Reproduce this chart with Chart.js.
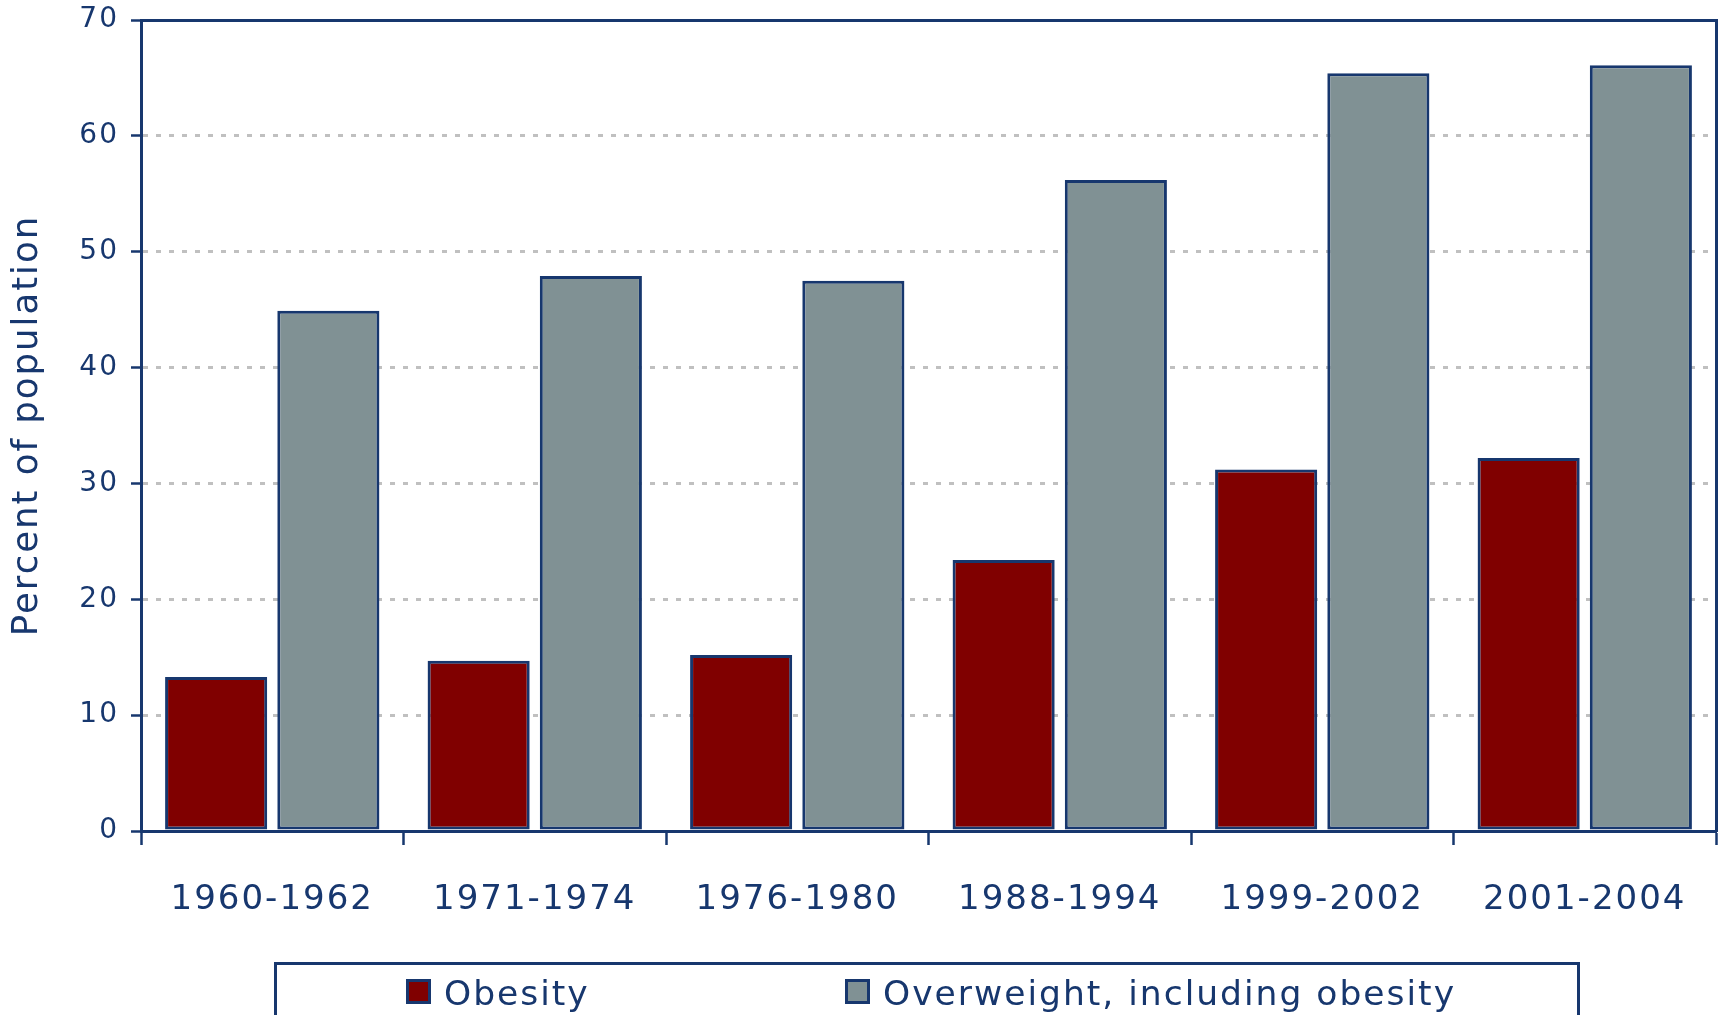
<!DOCTYPE html>
<html>
<head>
<meta charset="utf-8">
<title>Obesity and overweight</title>
<script src="https://cdn.jsdelivr.net/npm/chart.js@4"></script>
<style>
    html, body { margin: 0; padding: 0; background: #fff; overflow: hidden; }
    #wrap { position: relative; width: 1719px; height: 1015px; }
    #legend {
        position: absolute; left: 274px; top: 962px; width: 1306px; height: 80px;
        border: 3px solid #17376e; box-sizing: border-box;
        font-family: "DejaVu Sans", sans-serif; font-size: 34.5px; letter-spacing: 2px; color: #17376e;
    }
    #legend .box { position: absolute; top: 14px; width: 25px; height: 25px; box-sizing: border-box; border: 3px solid #17376e; }
    #legend .txt { position: absolute; top: 11px; line-height: 35px; white-space: nowrap; }
</style>
</head>
<body>
<div id="wrap">
    <canvas id="chart" width="1719" height="1015"></canvas>
    <div id="legend"></div>
</div>
<script>
(function() {
    'use strict';

    var periods = ['1960-1962', '1971-1974', '1976-1980', '1988-1994', '1999-2002', '2001-2004'];
    var obesity = [13.3, 14.7, 15.2, 23.4, 31.2, 32.2];
    var overweight = [44.9, 47.9, 47.5, 56.2, 65.4, 66.1];
    var yTicks = [0, 10, 20, 30, 40, 50, 60, 70];

    var navy = '#17376e';
    var font = '"DejaVu Sans", sans-serif';

    // canvas text in the original is tracked out a little
    var spacing = {
        id: 'spacing',
        beforeLayout: function(chart) { chart.ctx.letterSpacing = '2px'; },
        beforeDraw: function(chart) { chart.ctx.letterSpacing = '2px'; }
    };

    // frame-only axes (top and right edge of the plot)
    var frameAxis = function(pos) {
        return {
            position: pos,
            grid: { display: false, drawTicks: false },
            ticks: { display: false },
            border: { color: navy, width: 3 }
        };
    };

    var chart = new Chart(document.getElementById('chart'), {
        type: 'bar',
        data: {
            labels: periods,
            datasets: [{
                label: 'Obesity',
                data: obesity,
                backgroundColor: '#800000'
            }, {
                label: 'Overweight, including obesity',
                data: overweight,
                backgroundColor: '#809194'
            }]
        },
        options: {
            responsive: false,
            animation: false,
            categoryPercentage: 0.855,
            barPercentage: 0.91,
            layout: { padding: { top: 20, right: 3, bottom: 0, left: 0 } },
            datasets: {
                bar: { borderColor: navy, borderWidth: 3, borderSkipped: false }
            },
            plugins: {
                legend: { display: false },
                tooltip: { enabled: false }
            },
            scales: {
                x: {
                    position: 'bottom',
                    grid: {
                        offset: true, drawOnChartArea: false, tickLength: 14,
                        tickColor: navy, tickWidth: 2.5
                    },
                    border: { color: navy, width: 3 },
                    ticks: { color: navy, padding: 35, font: { family: font, size: 34 } },
                    afterFit: function(s) {
                        // fixed axis band; no label overhang padding
                        s.height = 184;
                        s.paddingLeft = 0;
                        s.paddingRight = 0;
                    }
                },
                xTop: frameAxis('top'),
                y: {
                    min: 0,
                    max: 70,
                    afterBuildTicks: function(s) {
                        s.ticks = yTicks.map(function(v) { return { value: v }; });
                    },
                    grid: {
                        color: '#c0c0c0', lineWidth: 3, tickLength: 10,
                        tickColor: navy, tickWidth: 2.5
                    },
                    border: { color: navy, width: 3, dash: [5, 8] },
                    ticks: { color: navy, padding: 12, font: { family: font, size: 28 } },
                    title: {
                        display: true,
                        text: 'Percent of population',
                        color: navy,
                        padding: { top: 10, bottom: 0 },
                        font: { family: font, size: 35.5, lineHeight: 1 }
                    },
                    afterFit: function(s) {
                        s.width = 141;
                        s.paddingTop = 0;
                        s.paddingBottom = 0;
                    }
                },
                yRight: frameAxis('right')
            }
        },
        plugins: [spacing]
    });

    // legend inside its framed box, built from the chart's datasets
    var legend = document.getElementById('legend');
    var itemLeft = [129, 568];
    chart.data.datasets.forEach(function(ds, i) {
        var box = document.createElement('span');
        box.className = 'box';
        box.style.left = itemLeft[i] + 'px';
        box.style.background = ds.backgroundColor;
        var txt = document.createElement('span');
        txt.className = 'txt';
        txt.style.left = (itemLeft[i] + 38) + 'px';
        txt.textContent = ds.label;
        legend.appendChild(box);
        legend.appendChild(txt);
    });
})();
</script>
</body>
</html>
